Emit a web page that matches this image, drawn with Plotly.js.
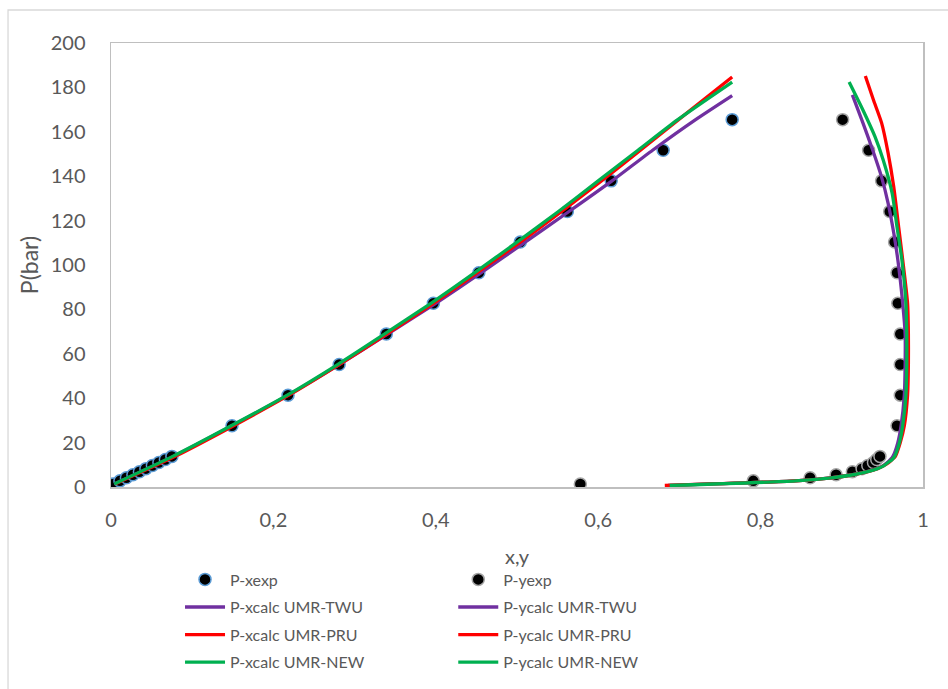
<!DOCTYPE html>
<html>
<head>
<meta charset="utf-8">
<script src="https://cdn.plot.ly/plotly-3.0.1.min.js"></script>
<style>html,body{margin:0;padding:0;background:#fff}#chart{width:948px;height:689px}</style>
</head>
<body>
<div id="chart"></div>
<script>
// Experimental data (pressure in bar)
const P_exp = [1.38, 2.76, 4.14, 5.52, 6.89, 8.27, 9.65, 11.03, 12.41, 13.79, 27.58, 41.37, 55.16, 68.95, 82.74, 96.53, 110.32, 124.11, 137.9, 151.69, 165.48];
const x_exp = [0.003, 0.011, 0.019, 0.027, 0.035, 0.043, 0.051, 0.059, 0.067, 0.075, 0.149, 0.218, 0.281, 0.339, 0.397, 0.453, 0.504, 0.562, 0.616, 0.680, 0.765];
const y_exp = [0.578, 0.791, 0.861, 0.893, 0.913, 0.925, 0.932, 0.939, 0.943, 0.947, 0.968, 0.972, 0.972, 0.972, 0.969, 0.968, 0.965, 0.959, 0.949, 0.933, 0.901];

// Calculated liquid (x) curves
const P_xcalc_twu = [1.38, 13.79, 27.58, 41.37, 55.16, 68.95, 82.74, 96.53, 110.32, 124.11, 137.9, 151.69, 165.48, 176.3];
const x_calc_twu  = [0.004, 0.077, 0.149, 0.218, 0.281, 0.341, 0.400, 0.456, 0.510, 0.564, 0.617, 0.667, 0.720, 0.765];
const P_xcalc_pru = [1.38, 13.79, 27.58, 41.37, 55.16, 68.95, 82.74, 96.53, 110.32, 124.11, 137.9, 151.69, 165.48, 184.7];
const x_calc_pru  = [0.005, 0.079, 0.151, 0.219, 0.281, 0.340, 0.397, 0.451, 0.504, 0.555, 0.604, 0.652, 0.699, 0.765];
const P_xcalc_new = [1.38, 13.79, 27.58, 41.37, 55.16, 68.95, 82.74, 96.53, 110.32, 124.11, 137.9, 151.69, 165.48, 182.4];
const x_calc_new  = [0.004, 0.076, 0.148, 0.217, 0.279, 0.337, 0.394, 0.448, 0.500, 0.551, 0.600, 0.649, 0.698, 0.765];

// Calculated vapour (y) curves
const P_ycalc_twu = [0.7, 2.76, 4.14, 5.52, 6.89, 8.27, 9.65, 11.03, 12.41, 13.79, 20, 27.58, 41.37, 55.16, 68.95, 82.74, 102.3, 114.4, 127.9, 139.6, 151.8, 164, 176.6];
const y_calc_twu  = [0.686, 0.842, 0.886, 0.913, 0.931, 0.943, 0.951, 0.956, 0.960, 0.963, 0.969, 0.973, 0.977, 0.978, 0.978, 0.975, 0.969, 0.964, 0.957, 0.949, 0.938, 0.926, 0.913];
const P_ycalc_pru = [0.7, 2.76, 4.14, 5.52, 6.89, 8.27, 9.65, 11.03, 12.41, 13.79, 20, 27.58, 41.37, 55.16, 68.95, 82.74, 102.3, 117.1, 135.1, 150.5, 164, 174.3, 185.1];
const y_calc_pru  = [0.682, 0.843, 0.887, 0.914, 0.932, 0.944, 0.952, 0.958, 0.962, 0.966, 0.972, 0.977, 0.981, 0.982, 0.982, 0.981, 0.975, 0.970, 0.964, 0.957, 0.949, 0.939, 0.929];
const P_ycalc_new = [0.7, 2.76, 4.14, 5.52, 6.89, 8.27, 9.65, 11.03, 12.41, 13.79, 20, 27.58, 41.37, 55.16, 68.95, 82.74, 102.3, 117.1, 132.4, 147.3, 157.7, 169.8, 182.4];
const y_calc_new  = [0.688, 0.843, 0.887, 0.914, 0.932, 0.944, 0.952, 0.957, 0.962, 0.965, 0.971, 0.975, 0.979, 0.980, 0.980, 0.979, 0.974, 0.968, 0.962, 0.951, 0.941, 0.926, 0.909];

const names = ["P-xexp", "P-yexp", "P-xcalc UMR-TWU", "P-ycalc UMR-TWU", "P-xcalc UMR-PRU", "P-ycalc UMR-PRU", "P-xcalc UMR-NEW", "P-ycalc UMR-NEW"];
const xTicks = [0, 0.2, 0.4, 0.6, 0.8, 1];
const yTicks = [0, 20, 40, 60, 80, 100, 120, 140, 160, 180, 200];

const PURPLE = '#7030a0', RED = '#ff0000', GREEN = '#00b050';
const lw = 3.3;
const sm = 0.6;

function line(x, y, name, color, legend, grp) {
  return {x: x, y: y, name: name, type: 'scatter', mode: 'lines',
    line: {color: color, width: lw, shape: 'spline', smoothing: sm},
    legend: legend, legendgroup: grp, hoverinfo: 'skip'};
}

const traces = [
  {x: x_exp, y: P_exp, name: names[0], type: 'scatter', mode: 'markers',
   marker: {color: '#000', size: 12, line: {color: '#5b9bd5', width: 1.5}}, legend: 'legend', legendgroup: 'a1'},
  {x: y_exp, y: P_exp, name: names[1], type: 'scatter', mode: 'markers',
   marker: {color: '#000', size: 12, line: {color: '#a5a5a5', width: 1.5}}, legend: 'legend2', legendgroup: 'b1'},
  line(x_calc_twu, P_xcalc_twu, names[2], PURPLE, 'legend', 'a2'),
  line(y_calc_twu, P_ycalc_twu, names[3], PURPLE, 'legend2', 'b2'),
  line(x_calc_pru, P_xcalc_pru, names[4], RED, 'legend', 'a3'),
  line(y_calc_pru, P_ycalc_pru, names[5], RED, 'legend2', 'b3'),
  line(x_calc_new, P_xcalc_new, names[6], GREEN, 'legend', 'a4'),
  line(y_calc_new, P_ycalc_new, names[7], GREEN, 'legend2', 'b4')
];

const FONT = 'Lato, "Open Sans", sans-serif';
const TXT = '#595959';

const legendBase = {
  orientation: 'v', xanchor: 'left', yanchor: 'top', y: -0.17,
  font: {family: FONT, size: 16, color: TXT}, bgcolor: 'rgba(0,0,0,0)',
  itemwidth: 40, tracegroupgap: 3.8, traceorder: 'grouped'
};

const layout = {
  width: 948, height: 689,
  margin: {l: 111, r: 25, t: 43, b: 202, autoexpand: false},
  paper_bgcolor: '#fff', plot_bgcolor: '#fff',
  separators: ', ',
  font: {family: FONT, color: TXT},
  showlegend: true,
  xaxis: {
    range: [0, 1], tickvals: xTicks, showgrid: false, zeroline: false,
    showline: true, mirror: true, linecolor: '#bfbfbf', linewidth: 1.5,
    ticks: '', ticklabelstandoff: 14, automargin: false,
    tickfont: {family: FONT, size: 20, color: TXT},
    title: {text: 'x,y', font: {family: FONT, size: 20, color: TXT}, standoff: 20}
  },
  yaxis: {
    range: [0, 200], tickvals: yTicks, showgrid: false, zeroline: false,
    showline: true, mirror: true, linecolor: '#bfbfbf', linewidth: 1.5,
    ticks: '', ticklabelstandoff: 20, automargin: false,
    tickfont: {family: FONT, size: 20, color: TXT},
    title: {text: 'P(bar)', font: {family: FONT, size: 23, color: TXT}, standoff: 5}
  },
  legend: Object.assign({}, legendBase, {x: 0.085}),
  legend2: Object.assign({}, legendBase, {x: 0.4215}),
  shapes: [{type: 'rect', xref: 'paper', yref: 'paper', x0: -0.1268, x1: 1.06, y0: -0.5, y1: 1.0743,
            line: {color: '#d9d9d9', width: 1.3}, fillcolor: 'rgba(0,0,0,0)', layer: 'below'}]
};

Plotly.newPlot('chart', traces, layout, {staticPlot: true});
</script>
</body>
</html>
